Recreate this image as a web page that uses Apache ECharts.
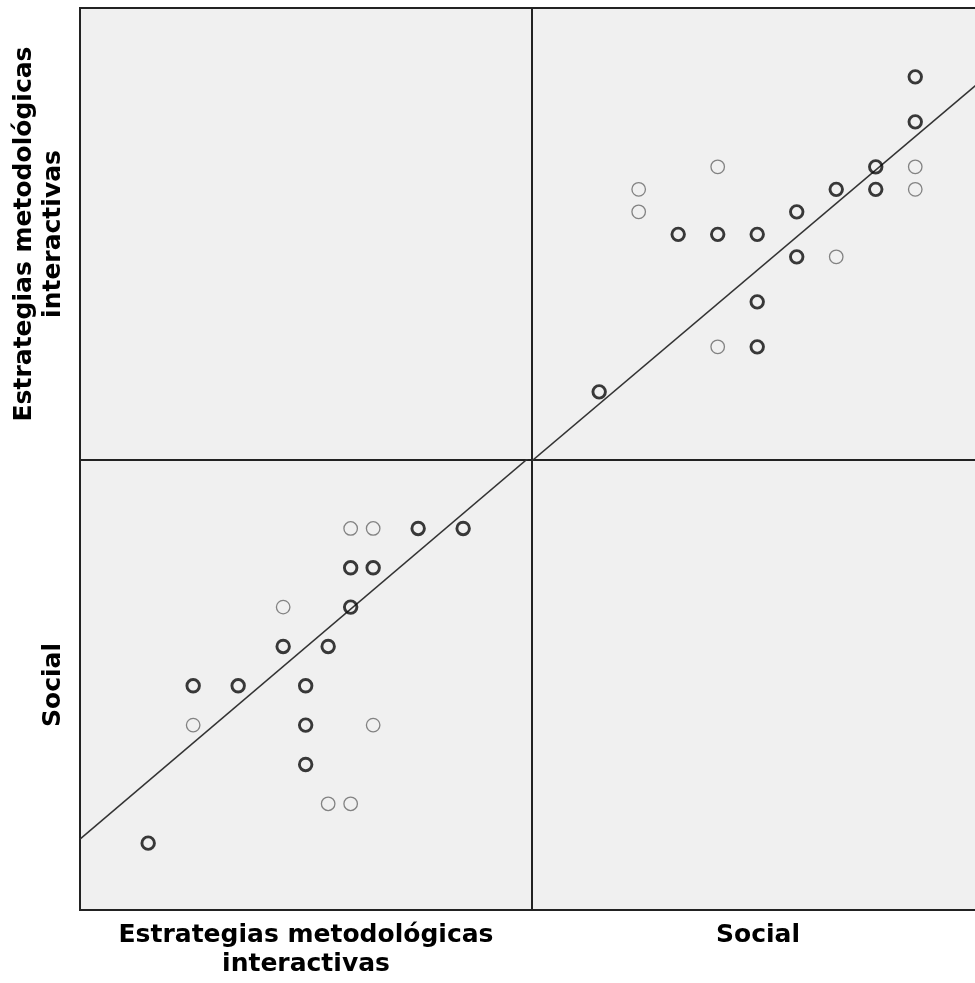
<!DOCTYPE html>
<html>
<head>
<meta charset="utf-8">
<script src="https://cdn.jsdelivr.net/npm/echarts@6/dist/echarts.min.js"></script>
<style>
html,body{margin:0;padding:0;background:#fff;overflow:hidden;}
#chart{width:1000px;height:983px;}
</style>
</head>
<body>
<div id="chart"></div>
<script>
// Variables
const varNames = ['Estrategias metodológicas\ninteractivas', 'Social'];
// Observed (unique) cases: Social and Estrategias scores
const socialVals = [18,18,13,17,18,11,16,17,18,11,15,12,13,14,15,16,14,13,14,10];
const estrVals   = [40,38,36,36,36,35,35,35,35,34,34,33,33,33,32,32,30,28,28,26];
// 1 = overlapping cases (drawn bold), 0 = single case
const overlapped = [1,1,0,1,0,0,1,1,0,0,1,1,1,1,1,0,1,0,1,1];
// Linear fit lines
const fitEonS = {intercept: 10.60, slope: 1.486};   // Estrategias = a + b*Social
const fitSonE = {intercept: -1.06, slope: 0.486};   // Social = a + b*Estrategias
// Axis extents
const socialRange = [8.30, 19.74];
const estrRange = [22.97, 43.06];

const chart = echarts.init(document.getElementById('chart'), null, {renderer: 'canvas'});

const panelBg = '#f0f0f0';
const frame = '#222';
const nameStyle = {
  fontFamily: 'DejaVu Sans, Liberation Sans, Arial, sans-serif',
  fontWeight: 'bold',
  fontSize: 25,
  lineHeight: 29,
  color: '#000'
};

function hiddenAxis(extra) {
  return Object.assign({
    type: 'value',
    axisLine: {show: false},
    axisTick: {show: false},
    axisLabel: {show: false},
    splitLine: {show: false}
  }, extra);
}

const grids = [
  {left: 80, top: 8, width: 452, height: 452},
  {left: 532, top: 8, width: 452, height: 452},
  {left: 80, top: 460, width: 452, height: 450},
  {left: 532, top: 460, width: 452, height: 450}
].map(g => Object.assign({show: true, backgroundColor: panelBg, borderColor: frame, borderWidth: 2, containLabel: false}, g));

const xAxes = [
  hiddenAxis({gridIndex: 0, min: 0, max: 1}),
  hiddenAxis({gridIndex: 1, min: socialRange[0], max: socialRange[1]}),
  hiddenAxis({gridIndex: 2, min: estrRange[0], max: estrRange[1],
    name: varNames[0], nameLocation: 'middle', nameGap: 11, nameTextStyle: nameStyle}),
  hiddenAxis({gridIndex: 3, min: socialRange[0], max: socialRange[1],
    name: varNames[1], nameLocation: 'middle', nameGap: 11, nameTextStyle: nameStyle})
];
const yAxes = [
  hiddenAxis({gridIndex: 0, min: estrRange[0], max: estrRange[1],
    name: varNames[0], nameLocation: 'middle', nameGap: 12, nameRotate: 90, nameTextStyle: nameStyle}),
  hiddenAxis({gridIndex: 1, min: estrRange[0], max: estrRange[1]}),
  hiddenAxis({gridIndex: 2, min: socialRange[0], max: socialRange[1],
    name: varNames[1], nameLocation: 'middle', nameGap: 12.5, nameRotate: 90, nameTextStyle: nameStyle}),
  hiddenAxis({gridIndex: 3, min: 0, max: 1})
];

// Build point sets
const trSingle = [], trMulti = [], blSingle = [], blMulti = [];
for (let i = 0; i < socialVals.length; i++) {
  const s = socialVals[i], e = estrVals[i];
  if (overlapped[i]) { trMulti.push([s, e]); blMulti.push([e, s]); }
  else { trSingle.push([s, e]); blSingle.push([e, s]); }
}

const singleStyle = {color: 'rgba(0,0,0,0)', borderColor: '#666', borderWidth: 1.3};
const multiStyle = {color: 'rgba(0,0,0,0)', borderColor: '#0a0a0a', borderWidth: 2.9};

function scatter(xi, data, style, size) {
  return {
    type: 'scatter', xAxisIndex: xi, yAxisIndex: xi, data: data,
    symbol: 'circle', symbolSize: size, itemStyle: style,
    emphasis: {disabled: true}, silent: true, z: 3
  };
}

const fitTR = [socialRange[0], socialRange[1]].map(s => [s, fitEonS.intercept + fitEonS.slope * s]);
const fitBL = [estrRange[0], estrRange[1]].map(e => [e, fitSonE.intercept + fitSonE.slope * e]);

function fitLine(xi, data) {
  return {
    type: 'line', xAxisIndex: xi, yAxisIndex: xi, data: data,
    showSymbol: false, clip: true, silent: true, z: 2,
    lineStyle: {color: '#333', width: 1.5}
  };
}

chart.setOption({
  animation: false,
  backgroundColor: '#fff',
  grid: grids,
  xAxis: xAxes,
  yAxis: yAxes,
  series: [
    fitLine(1, fitTR),
    fitLine(2, fitBL),
    scatter(1, trSingle, singleStyle, 13.5),
    scatter(1, trMulti, multiStyle, 12.5),
    scatter(2, blSingle, singleStyle, 13.5),
    scatter(2, blMulti, multiStyle, 12.5)
  ]
});
</script>
</body>
</html>
